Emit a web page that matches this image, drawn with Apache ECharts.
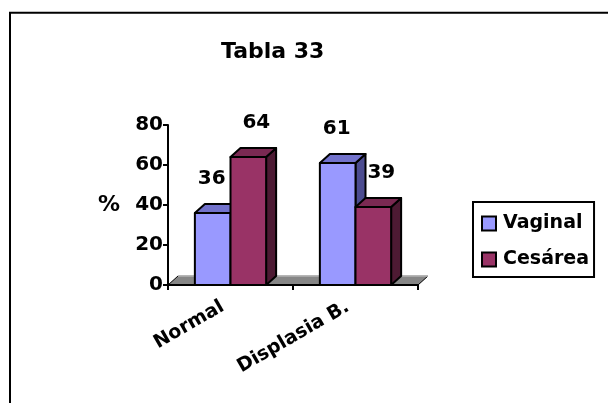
<!DOCTYPE html>
<html>
<head>
<meta charset="utf-8">
<script src="https://cdn.jsdelivr.net/npm/echarts@6/dist/echarts.min.js"></script>
<style>
  html, body { margin: 0; padding: 0; background: #fff; }
  #chart { width: 608px; height: 403px; }
</style>
</head>
<body>
<div id="chart"></div>
<script>
// Chart data
const chartTitle = 'Tabla 33';
const categories = ['Normal', 'Displasia B.'];
const seriesNames = ['Vaginal', 'Cesárea'];
const vaginal = [36, 61];
const cesarea = [64, 39];
const yTicks = [0, 20, 40, 60, 80];

const FONT = '"DejaVu Sans", "Liberation Sans", Arial, sans-serif';
// Oblique offset used for the pseudo-3D depth of bars and floor
const DEPTH_X = 10;
const DEPTH_Y = -9;

// Face colours (front, top, side) and horizontal nudge of the value label
const palettes = [
  { front: '#9999FF', top: '#7272CC', side: '#4C4C90', labelDx: -1 },
  { front: '#993366', top: '#7A2952', side: '#4D1A33', labelDx: 8 }
];

function barRenderer(seriesIdx) {
  const pal = palettes[seriesIdx];
  return function (params, api) {
    const cat = api.value(0);
    const val = api.value(1);
    const top = api.coord([cat, val]);
    const base = api.coord([cat, 0]);
    const band = api.size([1, 0])[0];
    const w = band * 0.285;
    const x0 = seriesIdx === 0 ? top[0] - w : top[0];
    const x1 = x0 + w;
    const yT = top[1];
    const yB = base[1];
    const edge = { stroke: '#000', lineWidth: 2, lineJoin: 'round' };
    return {
      type: 'group',
      children: [
        {
          type: 'polygon',
          shape: { points: [[x1, yT], [x1 + DEPTH_X, yT + DEPTH_Y], [x1 + DEPTH_X, yB + DEPTH_Y], [x1, yB]] },
          style: Object.assign({ fill: pal.side }, edge)
        },
        {
          type: 'polygon',
          shape: { points: [[x0, yT], [x1, yT], [x1 + DEPTH_X, yT + DEPTH_Y], [x0 + DEPTH_X, yT + DEPTH_Y]] },
          style: Object.assign({ fill: pal.top }, edge)
        },
        {
          type: 'rect',
          shape: { x: x0, y: yT, width: w, height: yB - yT },
          style: Object.assign({ fill: pal.front }, edge)
        },
        {
          type: 'text',
          x: (x0 + x1) / 2 + pal.labelDx,
          y: yT + DEPTH_Y - 25,
          style: {
            text: String(val),
            fill: '#000',
            fontSize: 20,
            fontWeight: 'bold',
            fontFamily: FONT,
            align: 'center',
            verticalAlign: 'middle'
          }
        }
      ]
    };
  };
}

// Grey floor under the plot area
function floorRenderer(params) {
  const cs = params.coordSys;
  const yF = cs.y + cs.height;
  const xL = cs.x;
  const xR = cs.x + cs.width;
  return {
    type: 'group',
    children: [
      {
        type: 'polygon',
        shape: { points: [[xL, yF], [xR, yF], [xR + DEPTH_X, yF + DEPTH_Y], [xL + DEPTH_X, yF + DEPTH_Y]] },
        style: { fill: '#868686', stroke: '#000', lineWidth: 1 }
      },
      {
        type: 'line',
        shape: { x1: xL + DEPTH_X, y1: yF + DEPTH_Y, x2: xR + DEPTH_X, y2: yF + DEPTH_Y },
        style: { stroke: '#c8c8c8', lineWidth: 1.5 }
      }
    ]
  };
}

const chart = echarts.init(document.getElementById('chart'), null, { renderer: 'canvas' });

chart.setOption({
  backgroundColor: '#fff',
  animation: false,
  textStyle: { fontFamily: FONT },
  graphic: [
    {
      type: 'rect',
      shape: { x: 10, y: 12.8, width: 720, height: 520 },
      style: { fill: 'none', stroke: '#000', lineWidth: 2 },
      z: 0,
      silent: true
    }
  ],
  title: {
    text: chartTitle,
    left: 216,
    top: 36,
    textStyle: { fontSize: 22, fontWeight: 'bold', color: '#000', fontFamily: FONT }
  },
  legend: {
    data: seriesNames,
    orient: 'vertical',
    left: 473,
    top: 202,
    padding: [12, 5, 8, 8],
    itemGap: 17,
    itemWidth: 14,
    itemHeight: 14,
    icon: 'rect',
    borderColor: '#000',
    borderWidth: 2,
    itemStyle: { borderColor: '#000', borderWidth: 2 },
    textStyle: {
      fontSize: 19,
      fontWeight: 'bold',
      color: '#000',
      fontFamily: FONT,
      lineHeight: 19,
      padding: [0, 0, 0, 2]
    }
  },
  grid: { left: 168, right: 190, top: 125, bottom: 118 },
  xAxis: {
    type: 'category',
    data: categories,
    z: 5,
    axisLine: { lineStyle: { color: '#000', width: 2 } },
    axisTick: { show: true, length: 5, lineStyle: { color: '#000', width: 2 } },
    axisLabel: {
      rotate: 30,
      margin: 16,
      color: '#000',
      fontSize: 19,
      fontWeight: 'bold',
      fontFamily: FONT,
      padding: [0, 9, 0, 0]
    }
  },
  yAxis: {
    type: 'value',
    min: yTicks[0],
    max: yTicks[yTicks.length - 1],
    interval: yTicks[1] - yTicks[0],
    z: 5,
    name: '%',
    nameLocation: 'middle',
    nameRotate: 0,
    nameGap: 48,
    nameTextStyle: { fontSize: 22, fontWeight: 'bold', color: '#000', fontFamily: FONT, padding: [4, 0, 0, 0] },
    axisLine: { show: true, lineStyle: { color: '#000', width: 2 } },
    axisTick: { show: true, length: 5, lineStyle: { color: '#000', width: 2 } },
    axisLabel: {
      margin: 5,
      color: '#000',
      fontSize: 20,
      fontWeight: 'bold',
      fontFamily: FONT
    },
    splitLine: { show: false }
  },
  series: [
    {
      type: 'custom',
      name: 'floor',
      silent: true,
      z: 1,
      renderItem: floorRenderer,
      data: [[0, 0]]
    },
    {
      type: 'custom',
      name: seriesNames[0],
      z: 2,
      itemStyle: { color: palettes[0].front },
      renderItem: barRenderer(0),
      encode: { x: 0, y: 1 },
      data: vaginal.map((v, i) => [i, v])
    },
    {
      type: 'custom',
      name: seriesNames[1],
      z: 3,
      itemStyle: { color: palettes[1].front },
      renderItem: barRenderer(1),
      encode: { x: 0, y: 1 },
      data: cesarea.map((v, i) => [i, v])
    }
  ]
});
</script>
</body>
</html>
